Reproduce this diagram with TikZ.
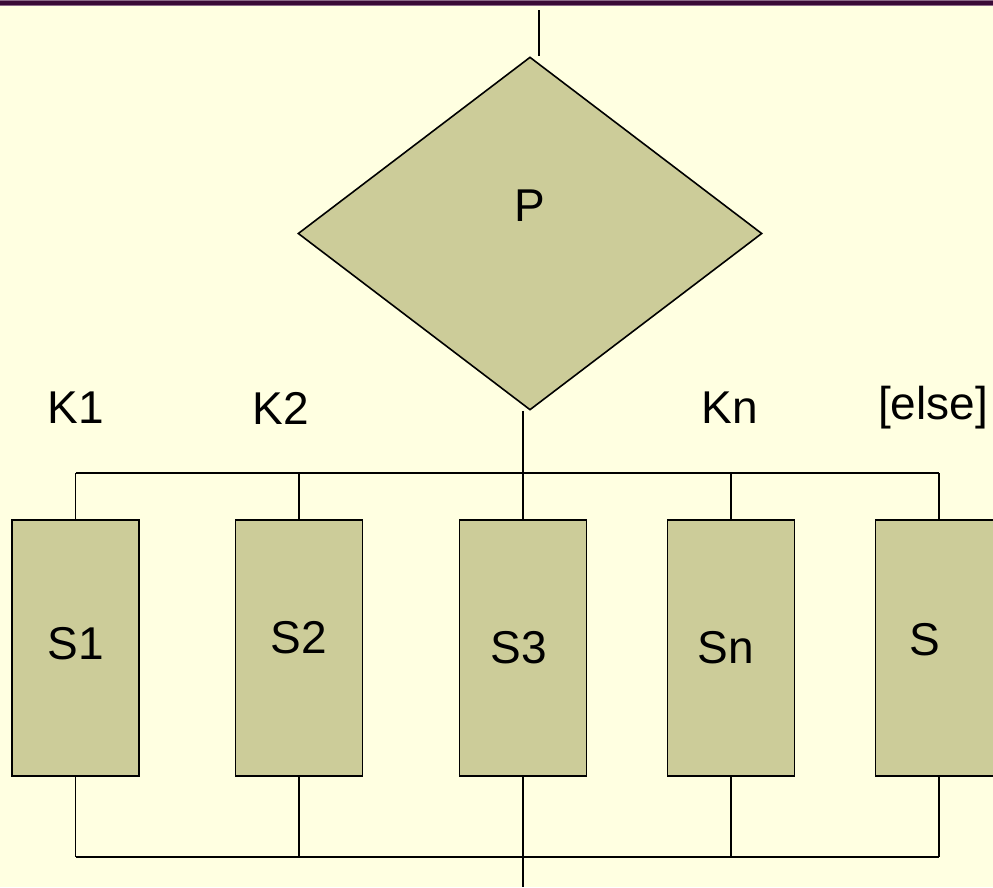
\documentclass[tikz,border=0pt]{standalone}
\usepackage{fontspec}
\setmainfont{Liberation Sans}
\usetikzlibrary{shapes.geometric}
\definecolor{paper}{HTML}{FFFFE1}
\definecolor{khaki}{HTML}{CCCC99}
\definecolor{plum}{HTML}{3A0A36}
\definecolor{lightplum}{HTML}{8C6A88}
\begin{document}
\begin{tikzpicture}[x=1pt,y=-1pt,line width=1.6pt,
	every node/.style={font=\fontsize{46}{54}\selectfont},
	decision/.style={diamond, draw, fill=khaki, inner sep=0pt, minimum width=464pt, minimum height=353pt},
	block/.style={rectangle, draw, fill=khaki, inner sep=0pt, minimum width=127pt, minimum height=256pt}]
	\fill[paper] (0,0) rectangle (993,887);
	\useasboundingbox (0,0) rectangle (993,887);
	\fill[plum] (0,0) rectangle (993,5);
	\draw[lightplum,line width=0.8pt] (0,0.4) -- (993,0.4);
	\draw[lightplum,line width=0.8pt] (0,5) -- (993,5);
	% decision
	\node (P) at (530, 233.5)	[decision]	{};
	\node (Ptext) at (530, 206)	{P};
	% branch labels
	\node (K1) at ( 76, 408)	{K1};
	\node (K2) at (281, 408)	{K2};
	\node (Kn) at (730, 408)	{Kn};
	\node (Ke) at (933, 408)	{[else]};
	% statements
	\node (S1) at ( 75.5, 648)	[block]	{};
	\node (S2) at (299, 648)	[block]	{};
	\node (S3) at (523, 648)	[block]	{};
	\node (Sn) at (731, 648)	[block]	{};
	\node (S)  at (939, 648)	[block]	{};
	\node (S1text) at ( 76, 644)	{S1};
	\node (S2text) at (299, 638)	{S2};
	\node (S3text) at (519, 648)	{S3};
	\node (Sntext) at (726, 648)	{Sn};
	\node (Stext)  at (925, 640)	{S};
	% junctions
	\coordinate (in)   at (539,  10);
	\coordinate (fork) at (523, 473);
	\coordinate (join) at (523, 857);
	\coordinate (out)  at (523, 887);
	\draw (in) -- (in |- P.north);
	\draw (fork |- P.south) -- (S3.north);
	\draw (S1.north |- fork) -- (S.north |- fork);
	\draw (S1.north |- fork) -- (S1.north);
	\draw (S2.north |- fork) -- (S2.north);
	\draw (Sn.north |- fork) -- (Sn.north);
	\draw (S.north |- fork) -- (S.north);
	\draw[line width=2.2pt] (S1.south |- join) -- (S.south |- join);
	\draw (S1.south) -- (S1.south |- join);
	\draw (S2.south) -- (S2.south |- join);
	\draw (Sn.south) -- (Sn.south |- join);
	\draw (S.south) -- (S.south |- join);
	\draw (S3.south) -- (out);
\end{tikzpicture}
\end{document}
